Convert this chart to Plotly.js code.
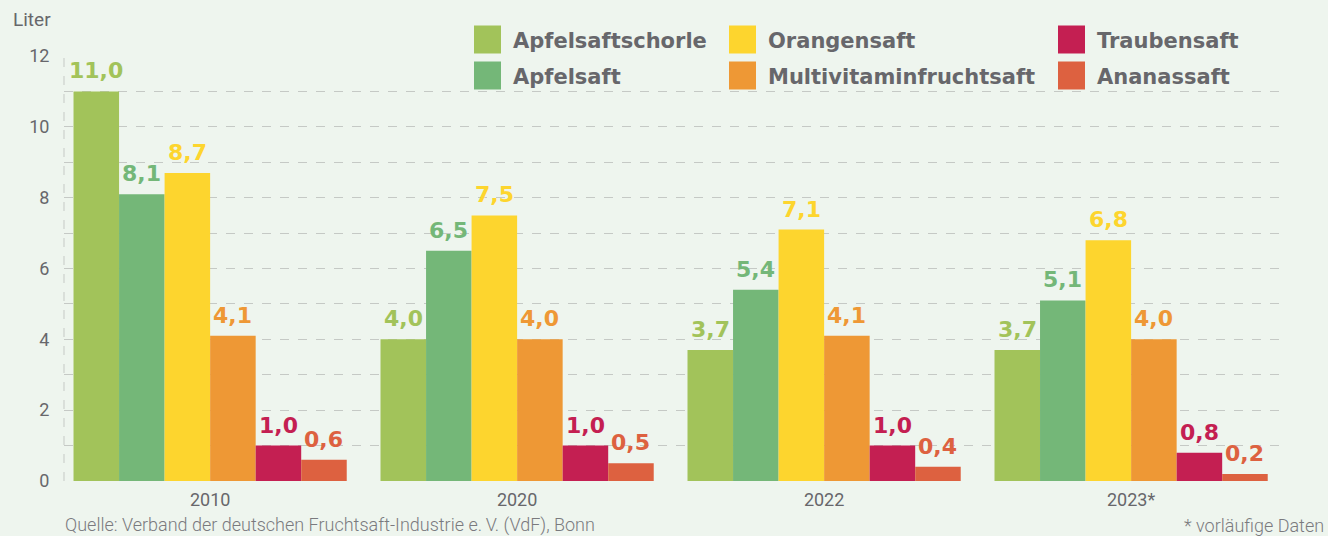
<!DOCTYPE html>
<html>
<head>
<meta charset="utf-8">
<script src="https://cdn.plot.ly/plotly-3.0.1.min.js"></script>
<style>html,body{margin:0;padding:0;background:#EEF5EE;}</style>
</head>
<body>
<div id="chart" style="width:1328px;height:536px;"></div>
<script>
// ---- Data ----
const years = ['2010', '2020', '2022', '2023*'];
const seriesNames = ['Apfelsaftschorle', 'Apfelsaft', 'Orangensaft', 'Multivitaminfruchtsaft', 'Traubensaft', 'Ananassaft'];
const apfelsaftschorle = [11.0, 4.0, 3.7, 3.7];
const apfelsaft = [8.1, 6.5, 5.4, 5.1];
const orangensaft = [8.7, 7.5, 7.1, 6.8];
const multivitaminfruchtsaft = [4.1, 4.0, 4.1, 4.0];
const traubensaft = [1.0, 1.0, 1.0, 0.8];
const ananassaft = [0.6, 0.5, 0.4, 0.2];
const yTickVals = [0, 2, 4, 6, 8, 10, 12];
const unitLabel = 'Liter';
const sourceNote = 'Quelle: Verband der deutschen Fruchtsaft-Industrie e.\u2009V. (VdF), Bonn';
const footNote = '* vorläufige Daten';

// ---- Styles ----
const seriesValues = [apfelsaftschorle, apfelsaft, orangensaft, multivitaminfruchtsaft, traubensaft, ananassaft];
const colors = ['#A2C35A', '#74B778', '#FDD52E', '#EE9835', '#C41F52', '#DD6140'];
const bg = '#EEF5EE';
const grey = '#67676B';
const gridColor = '#C5C9C5';
const labelFont = 'DejaVu Sans, Liberation Sans, sans-serif';
const axisFont = 'Roboto, Inter, sans-serif';

const W = 1328, H = 536;
const M = {l: 64, r: 48, t: 56, b: 55};
const PW = W - M.l - M.r, PH = H - M.t - M.b;
const px = v => (v - M.l) / PW;
const py = v => (H - M.b - v) / PH;
const xRange = [-0.476, 3.485];
const bargap = 0.11;
const barPx = PW / (xRange[1] - xRange[0]) * (1 - bargap) / seriesNames.length;

const traces = seriesNames.map((name, i) => ({
  type: 'bar',
  name: name,
  x: years,
  y: seriesValues[i],
  marker: {color: colors[i], line: {width: 0}},
  showlegend: false,
  hoverinfo: 'x+y+name'
}));

const shapes = [];
const annotations = [];

// value labels above bars (positioned via axis data coordinates; x = category index)
seriesNames.forEach((name, i) => {
  seriesValues[i].forEach((v, j) => {
    annotations.push({
      xref: 'x', yref: 'y', x: j, y: v,
      xshift: (i - (seriesNames.length - 1) / 2) * barPx, yshift: 6,
      xanchor: 'center', yanchor: 'bottom', showarrow: false,
      text: v.toFixed(1).replace('.', ','),
      font: {family: labelFont, size: 22, color: colors[i], weight: 'bold'}
    });
  });
});

// Manual legend (3 columns x 2 rows)
const legendCols = [474, 729, 1058];
const legendRows = [39.5, 75.5];
const legendOrder = [[0, 1], [2, 3], [4, 5]];
legendOrder.forEach((col, c) => {
  col.forEach((si, r) => {
    const cx = legendCols[c], cy = legendRows[r];
    shapes.push({
      type: 'rect', xref: 'paper', yref: 'paper',
      x0: px(cx), x1: px(cx + 27), y0: py(cy + 14), y1: py(cy - 14),
      fillcolor: colors[si], line: {width: 0}, layer: 'above'
    });
    annotations.push({
      xref: 'paper', yref: 'paper', x: px(cx + 37), y: py(cy + 1),
      xanchor: 'left', yanchor: 'middle', showarrow: false,
      text: seriesNames[si],
      font: {family: labelFont, size: 21, color: grey, weight: 'bold'}
    });
  });
});

// left dashed frame line
shapes.push({
  type: 'line', xref: 'paper', yref: 'paper', x0: 0, x1: 0, y0: 0, y1: 1,
  line: {color: gridColor, width: 1, dash: 'dash'}, layer: 'below'
});

annotations.push({
  xref: 'paper', yref: 'paper', x: px(11), y: py(20), xanchor: 'left', yanchor: 'middle',
  showarrow: false, text: unitLabel, font: {family: axisFont, size: 19, color: grey}
});
annotations.push({
  xref: 'paper', yref: 'paper', x: px(63), y: py(525), xanchor: 'left', yanchor: 'middle',
  showarrow: false, text: sourceNote, font: {family: axisFont, size: 18, color: '#7A7A7E', weight: 300}
});
annotations.push({
  xref: 'paper', yref: 'paper', x: px(1326), y: py(525), xanchor: 'right', yanchor: 'middle',
  showarrow: false, text: footNote, font: {family: axisFont, size: 18, color: '#7A7A7E', weight: 300}
});

const layout = {
  width: W, height: H,
  margin: M,
  paper_bgcolor: bg, plot_bgcolor: bg,
  separators: ',.',
  barmode: 'group',
  bargap: bargap,
  bargroupgap: 0,
  showlegend: false,
  xaxis: {
    type: 'category',
    range: xRange,
    showgrid: false, showline: false, zeroline: false,
    ticks: 'outside', ticklen: 2, tickcolor: 'rgba(0,0,0,0)',
    tickfont: {family: axisFont, size: 18, color: grey},
    fixedrange: true
  },
  yaxis: {
    range: [0, 12],
    tickvals: yTickVals,
    ticktext: yTickVals.map(String),
    showgrid: true, gridcolor: gridColor, gridwidth: 1, griddash: 'dash',
    minor: {dtick: 1, showgrid: true, gridcolor: gridColor, gridwidth: 1, griddash: 'dash'},
    zeroline: false, showline: false,
    ticks: 'outside', ticklen: 10, tickcolor: 'rgba(0,0,0,0)',
    tickfont: {family: axisFont, size: 18, color: grey},
    fixedrange: true
  },
  shapes: shapes,
  annotations: annotations
};

Plotly.newPlot('chart', traces, layout, {displayModeBar: false, staticPlot: true});
</script>
</body>
</html>
